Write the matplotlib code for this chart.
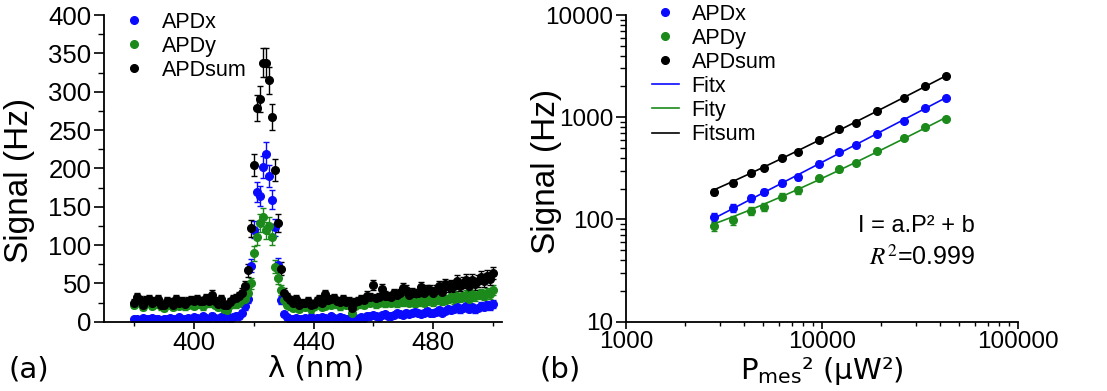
import numpy as np
import matplotlib
matplotlib.use("Agg")
import matplotlib.pyplot as plt
from matplotlib.lines import Line2D
from matplotlib.ticker import MultipleLocator, FuncFormatter

# (a) spectre : longueur d'onde 380..500 nm, pas de 1 nm
lam = np.arange(380, 501)

apdx = [3, 4, 2, 5, 4, 3, 5, 4, 3, 2,
        4, 3, 5, 3, 4, 6, 4, 3, 5, 4,
        6, 5, 4, 7, 5, 3, 8, 5, 4, 6,
        5, 7, 4, 6, 8, 8, 12, 20, 30,
        73, 120, 169, 164, 202, 219, 190, 159, 123, 74, 28,
        10, 6, 4, 3, 5, 4, 3, 5, 4, 6, 3, 5, 4, 6, 5, 4, 7, 5, 4, 6, 5, 4, 3, 6, 5, 4,
        6, 5, 8, 7, 9, 8, 6, 9, 10, 8,
        7, 9, 11, 10, 9, 12, 10, 11, 13, 11,
        10, 12, 14, 12, 11, 13, 15, 12, 14, 16,
        15, 17, 19, 16, 18, 20, 17, 19, 16, 18,
        21, 19, 22, 20, 23]

apdy = [22, 28, 25, 19, 24, 27, 21, 23, 26, 20,
        18, 24, 22, 19, 25, 21, 23, 20, 22, 24,
        21, 25, 23, 20, 26, 24, 28, 22, 19, 23,
        17, 15, 22, 24, 23, 25, 28, 30, 38,
        50, 89, 110, 129, 137, 119, 125, 110, 72, 57, 41,
        28, 22, 20, 18, 24, 17, 21, 19, 23, 16, 20, 22, 25, 19, 21, 24, 22, 26, 23, 20, 25, 22, 24, 12, 21, 23,
        24, 22, 26, 25, 28, 23, 25, 27, 24, 26,
        25, 28, 24, 27, 26, 29, 25, 27, 24, 26,
        28, 25, 27, 30, 26, 28, 31, 27, 29, 30,
        32, 29, 34, 31, 33, 35, 30, 36, 33, 35,
        37, 34, 38, 36, 41]

apdsum = [25, 32, 28, 22, 28, 30, 25, 27, 29, 22,
          22, 27, 26, 22, 29, 25, 27, 23, 27, 28,
          27, 30, 27, 27, 31, 27, 35, 27, 23, 29,
          22, 22, 26, 30, 31, 33, 38, 46, 67,
          122, 204, 279, 291, 338, 338, 315, 267, 198, 129, 69,
          38, 32, 28, 24, 29, 22, 25, 24, 27, 22, 23, 27, 29, 25, 36, 28, 29, 31, 27, 26, 30, 26, 27, 18, 26, 27,
          30, 28, 34, 32, 48, 31, 32, 43, 34, 33,
          32, 37, 35, 37, 44, 41, 35, 38, 37, 37,
          45, 37, 41, 42, 37, 41, 46, 39, 49, 46,
          47, 46, 53, 47, 51, 55, 47, 55, 49, 53,
          58, 53, 60, 56, 64]

# (b) puissance
p2 = [2810, 3500, 4360, 5060, 6270, 7570, 9610, 12160, 14900, 19130, 26200, 33400, 43000]
px = [105, 129, 161, 187, 229, 262, 352, 457, 532, 687, 927, 1233, 1556]
py = [87, 99, 122, 133, 167, 193, 253, 310, 357, 471, 631, 803, 968]
psum = [187, 229, 285, 321, 403, 457, 600, 773, 885, 1161, 1556, 2024, 2518]

blue = "#0a0aff"
green = "#1b8a1b"
black = "black"
arial = "Liberation Sans"

fig = plt.figure(figsize=(11.07, 3.91), dpi=100)
ax1 = fig.add_axes([0.094, 0.1772, 0.3595, 0.7844])
ax2 = fig.add_axes([0.5655, 0.1772, 0.3541, 0.7844])

for ax in (ax1, ax2):
    ax.spines["top"].set_visible(False)
    ax.spines["right"].set_visible(False)
    ax.spines["left"].set_linewidth(1.3)
    ax.spines["bottom"].set_linewidth(1.3)
    ax.tick_params(axis="y", which="major", direction="out", length=7, width=1.2)
    ax.tick_params(axis="y", which="minor", direction="out", length=4, width=1.0)
    ax.tick_params(axis="x", which="major", direction="out", length=5, width=1.2)
    ax.tick_params(axis="x", which="minor", direction="out", length=3, width=1.0)

# --- (a)
for sig, col in [(apdx, blue), (apdy, green), (apdsum, black)]:
    sig = np.array(sig)
    ax1.errorbar(lam, sig, yerr=np.sqrt(sig), fmt="o", color=col, ms=5.5,
                 ecolor=col, elinewidth=1.0, capsize=2.5, capthick=1.0)
ax1.set_xlim(370, 503)
ax1.set_ylim(0, 400)
ax1.xaxis.set_major_locator(MultipleLocator(40))
ax1.xaxis.set_minor_locator(MultipleLocator(20))
ax1.yaxis.set_major_locator(MultipleLocator(50))
ax1.yaxis.set_minor_locator(MultipleLocator(25))
ax1.tick_params(labelsize=18.5, pad=2)
for t in ax1.get_xticklabels() + ax1.get_yticklabels():
    t.set_family(arial)
ax1.set_xlabel("λ (nm)", fontsize=21)
ax1.set_ylabel("Signal (Hz)", fontsize=24, family=arial)
ax1.xaxis.set_label_coords(0.534, -0.108)
ax1.yaxis.set_label_coords(-0.173, 0.462)

h1 = [Line2D([], [], ls="", marker="o", ms=5.5, color=c) for c in (blue, green, black)]
ax1.legend(h1, ["APDx", "APDy", "APDsum"], loc="upper left", bbox_to_anchor=(0.041, 1.01),
           frameon=False, prop={"family": arial, "size": 15.5}, handlelength=1.25,
           handletextpad=0.7, labelspacing=0.14, borderpad=0, borderaxespad=0)

# --- (b)
for sig, col in [(px, blue), (py, green), (psum, black)]:
    sig = np.array(sig)
    ax2.errorbar(p2, sig, yerr=np.sqrt(sig), fmt="o", color=col, ms=5.5,
                 ecolor=col, elinewidth=1.0, capsize=2.5, capthick=1.0)
    a, b = np.polyfit(p2, sig, 1)
    xf = np.geomspace(min(p2), max(p2), 60)
    ax2.plot(xf, a * xf + b, color=col, lw=1.2)
ax2.set_xscale("log")
ax2.set_yscale("log")
ax2.set_xlim(1000, 100000)
ax2.set_ylim(10, 10000)
ax2.xaxis.set_major_formatter(FuncFormatter(lambda v, p: f"{v:.0f}"))
ax2.yaxis.set_major_formatter(FuncFormatter(lambda v, p: f"{v:.0f}"))
ax2.tick_params(labelsize=17.5, pad=2)
for t in ax2.get_xticklabels() + ax2.get_yticklabels():
    t.set_family(arial)
ax2.set_xlabel(r"P$_{\rm mes}$² (µW²)", fontsize=21)
ax2.set_ylabel("Signal (Hz)", fontsize=24, family=arial)
ax2.xaxis.set_label_coords(0.5, -0.108)
ax2.yaxis.set_label_coords(-0.163, 0.49)

h2 = h1 + [Line2D([], [], color=c, lw=1.2) for c in (blue, green, black)]
ax2.legend(h2, ["APDx", "APDy", "APDsum", "Fitx", "Fity", "Fitsum"], loc="upper left",
           bbox_to_anchor=(0.066, 1.036), frameon=False, prop={"family": arial, "size": 15.5},
           handlelength=1.25, handletextpad=0.6, labelspacing=0.14, borderpad=0, borderaxespad=0)

ax2.text(0.89, 0.312, "I = a.P² + b", transform=ax2.transAxes, ha="right", va="center",
         fontsize=17, family=arial)
ax2.text(0.89, 0.208, r"$R^2$=0.999", transform=ax2.transAxes, ha="right", va="center",
         fontsize=18, family=arial, math_fontfamily="stix")

fig.text(0.008, 0.054, "(a)", fontsize=21, va="center")
fig.text(0.487, 0.054, "(b)", fontsize=21, va="center")

fig.savefig("out.png", dpi=100)
